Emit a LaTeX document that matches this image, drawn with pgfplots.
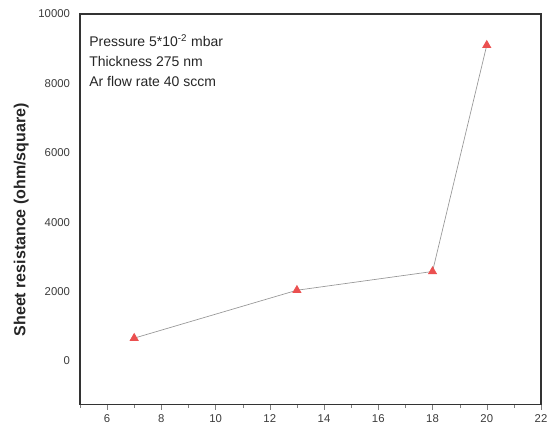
\documentclass[border=0pt]{standalone}
\usepackage{pgfplots}
\pgfplotsset{compat=1.18}
\usepackage{fontspec}
\setmainfont{Liberation Sans}
\definecolor{mkred}{RGB}{235,80,80}
\definecolor{lnclr}{RGB}{150,150,150}
\definecolor{txtgray}{RGB}{60,60,60}
\begin{document}
\begin{tikzpicture}
  \begin{axis}[
    scale only axis,
    width=346pt, height=293pt,
    xmin=5, xmax=22,
    ymin=-1250, ymax=10000,
    xtick={6,8,...,22},
    minor xtick={5,7,...,21},
    ytick={0,2000,...,10000},
    scaled ticks=false,
    ytick style={draw=none},
    xtick pos=bottom,
    tick align=outside,
    major tick length=4pt,
    minor tick length=2.5pt,
    axis line style={line width=0.9pt, black!80},
    /pgf/number format/assume math mode=true,
    /pgf/number format/1000 sep={},
    tick label style={font=\fontsize{8.5}{10}\selectfont, text=txtgray},
    ylabel={\textbf{Sheet resistance (ohm/square)}},
    ylabel style={font=\fontsize{12}{14}\selectfont, text=black!85, yshift=0.5pt, xshift=-8pt},
  ]
    \addplot[lnclr, line width=0.5pt, mark=triangle*, mark size=3.5pt,
             mark options={fill=mkred, draw=mkred}] coordinates {
      (7, 660)
      (13, 2040)
      (18, 2580)
      (20, 9100)
    };
    \node[anchor=north west, align=left, font=\fontsize{10.5}{15}\selectfont, text=black!85]
      at (rel axis cs:0.01,0.96)
      {Pressure 5*10\textsuperscript{-2} mbar\\Thickness 275 nm\\Ar flow rate 40 sccm};
  \end{axis}
  % frame the page like the scanned figure (22 label is cut at the right)
  \pgfresetboundingbox
  \path ([xshift=-60pt,yshift=-15.75pt]current axis.south west)
    rectangle ([xshift=4.5pt,yshift=10.5pt]current axis.north east);
\end{tikzpicture}
\end{document}
